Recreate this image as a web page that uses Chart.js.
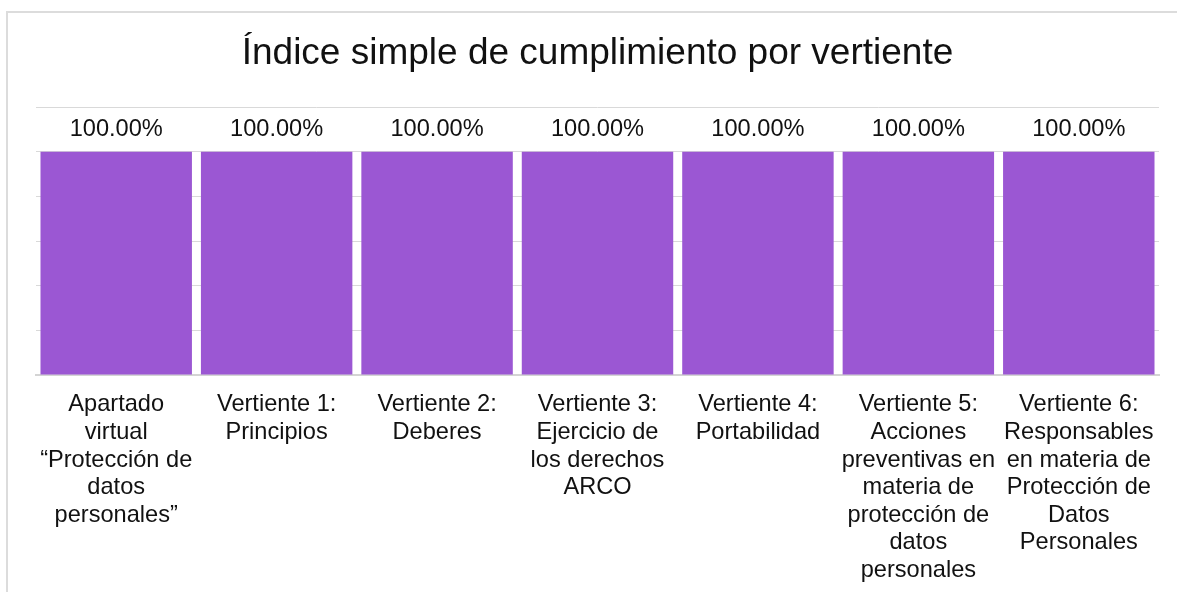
<!DOCTYPE html>
<html>
<head>
<meta charset="utf-8">
<script src="https://cdn.jsdelivr.net/npm/chart.js@4/dist/chart.umd.min.js"></script>
<style>
  html, body { margin: 0; padding: 0; background: #fff; overflow: hidden; }
  #frame { position: absolute; left: 6px; top: 11px; width: 1200px; height: 620px; border: 2px solid #dcdcdc; box-sizing: border-box; }
  #c { position: absolute; left: 0; top: 0; }
</style>
</head>
<body>
<div id="frame"></div>
<canvas id="c" width="1177" height="592"></canvas>
<script>
const chartTitle = "Índice simple de cumplimiento por vertiente";
const categories = [
  ["Apartado", "virtual", "“Protección de", "datos", "personales”"],
  ["Vertiente 1:", "Principios"],
  ["Vertiente 2:", "Deberes"],
  ["Vertiente 3:", "Ejercicio de", "los derechos", "ARCO"],
  ["Vertiente 4:", "Portabilidad"],
  ["Vertiente 5:", "Acciones", "preventivas en", "materia de", "protección de", "datos", "personales"],
  ["Vertiente 6:", "Responsables", "en materia de", "Protección de", "Datos", "Personales"]
];
const indexValues = [100, 100, 100, 100, 100, 100, 100];
const yMin = 0, yMax = 120, yStep = 20;

const FONT = "'Liberation Sans', Arial, sans-serif";
const TEXT = "#111111";

const valueLabels = {
  id: 'valueLabels',
  afterDatasetsDraw(chart) {
    const ctx = chart.ctx;
    const meta = chart.getDatasetMeta(0);
    ctx.save();
    ctx.font = "23.6px " + FONT;
    ctx.fillStyle = TEXT;
    ctx.textAlign = 'center';
    ctx.textBaseline = 'alphabetic';
    meta.data.forEach((bar, i) => {
      const v = chart.data.datasets[0].data[i];
      ctx.fillText(v.toFixed(2) + '%', bar.x, bar.y - 16);
    });
    ctx.restore();
  }
};

new Chart(document.getElementById('c'), {
  type: 'bar',
  data: {
    labels: categories,
    datasets: [{
      data: indexValues,
      backgroundColor: '#9B57D3',
      borderWidth: 0,
      barPercentage: 0.944,
      categoryPercentage: 1.0
    }]
  },
  options: {
    responsive: false,
    animation: false,
    devicePixelRatio: 1,
    layout: { padding: { left: 36, right: 18, top: 0, bottom: 0 } },
    plugins: {
      legend: { display: false },
      tooltip: { enabled: false },
      title: {
        display: true,
        text: chartTitle,
        color: TEXT,
        font: { family: FONT, size: 37, weight: 'normal', lineHeight: 1.2 },
        padding: { top: 32, bottom: 30.8 }
      }
    },
    scales: {
      x: {
        grid: { display: false, drawTicks: false },
        border: { display: true, color: '#d4d4d4', width: 2 },
        ticks: {
          autoSkip: false,
          maxRotation: 0,
          minRotation: 0,
          padding: 16,
          color: TEXT,
          font: { family: FONT, size: 23.6, lineHeight: 1.17 }
        },
        afterFit(scale) { scale.height = 217; }
      },
      y: {
        min: yMin,
        max: yMax,
        ticks: { display: false, stepSize: yStep },
        grid: { color: '#d9d9d9', lineWidth: 1, drawTicks: false },
        border: { display: false },
        afterFit(scale) { scale.width = 0; }
      }
    }
  },
  plugins: [valueLabels]
});
</script>
</body>
</html>
